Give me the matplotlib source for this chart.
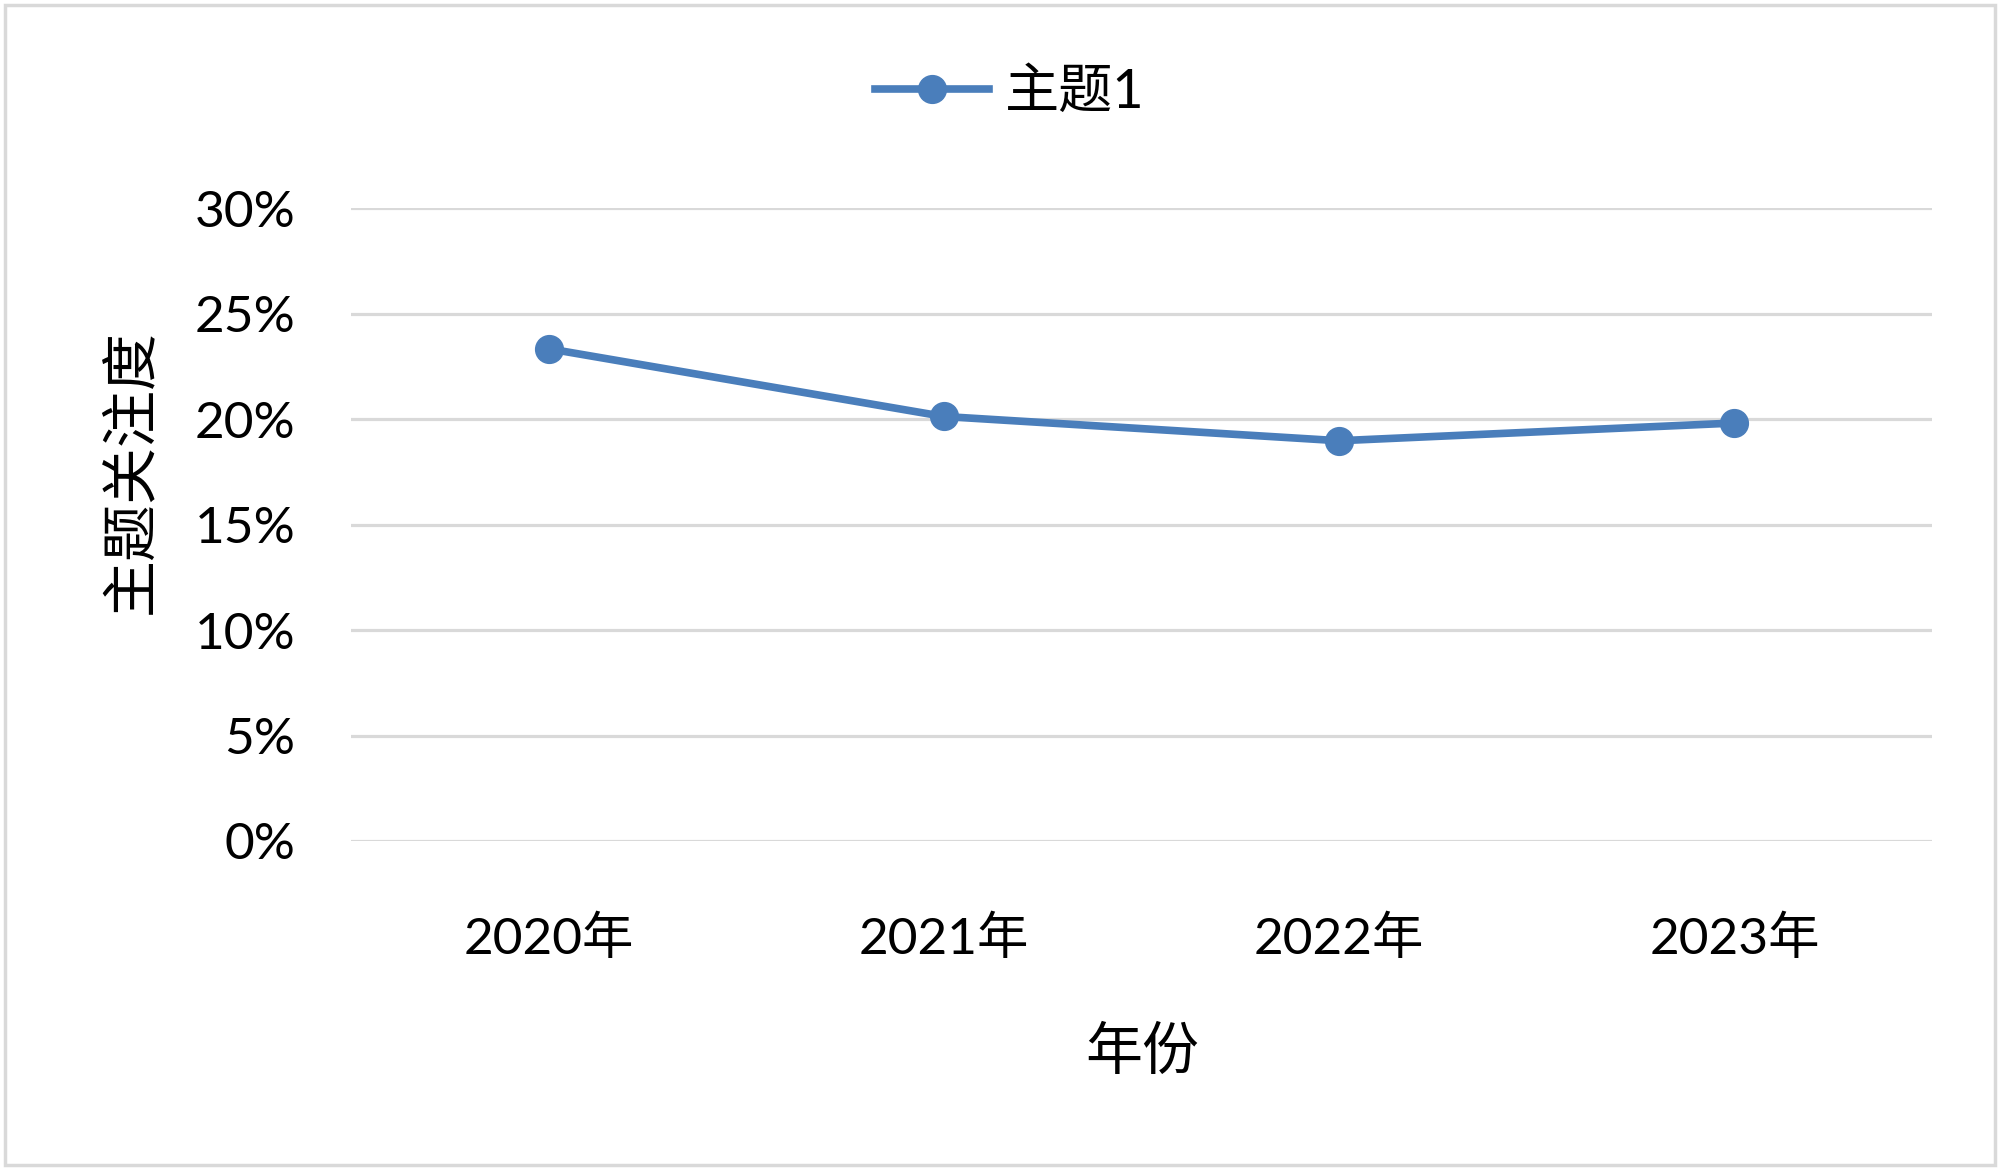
import matplotlib
matplotlib.use("Agg")
import matplotlib.pyplot as plt
from matplotlib.patches import Rectangle
from matplotlib.ticker import PercentFormatter

plt.rcParams['font.family'] = ['Lato', 'Noto Sans CJK SC', 'DejaVu Sans']

years = ['2020年', '2021年', '2022年', '2023年']
topic1 = [0.2333, 0.2012, 0.1897, 0.1981]
yticks = [0, 0.05, 0.10, 0.15, 0.20, 0.25, 0.30]

blue = '#4A7EBB'
grid_gray = '#D9D9D9'

fig = plt.figure(figsize=(20, 11.7), dpi=100)
ax = fig.add_axes([0.1755, 0.2812, 0.966 - 0.1755, 0.8222 - 0.2812])

x = range(len(years))
ax.plot(x, topic1, color=blue, lw=5.5, marker='o', ms=20,
        markerfacecolor=blue, markeredgecolor=blue, label='主题1',
        solid_joinstyle='round', zorder=3)

ax.set_xlim(-0.5, len(years) - 0.5)
ax.set_ylim(0, 0.30)
ax.set_yticks(yticks)
ax.yaxis.set_major_formatter(PercentFormatter(1.0, decimals=0))
ax.set_xticks(list(x))
ax.set_xticklabels(years)
ax.grid(axis='y', color=grid_gray, lw=2.3)
ax.set_axisbelow(True)
for s in ax.spines.values():
    s.set_visible(False)
ax.tick_params(axis='both', length=0, labelsize=37, colors='black')
ax.tick_params(axis='y', pad=40)
ax.tick_params(axis='x', pad=54)

fig.text(0.571, 1 - 1052 / 1170, '年份', ha='center', va='center', fontsize=41)
fig.text(0.0655, 1 - 472 / 1170, '主题关注度', ha='center', va='center',
         rotation=90, fontsize=41)

fig.legend(loc='center', bbox_to_anchor=(0.505, 1 - 92 / 1170), frameon=False,
           fontsize=39, handlelength=2.1, handletextpad=0.3)

# light outer frame like the chart area border
fig.patches.append(Rectangle((0.0025, 0.004), 0.995, 0.992, transform=fig.transFigure,
                             fill=False, edgecolor=grid_gray, lw=2.5))

fig.savefig('out.png', dpi=100, facecolor='white')
